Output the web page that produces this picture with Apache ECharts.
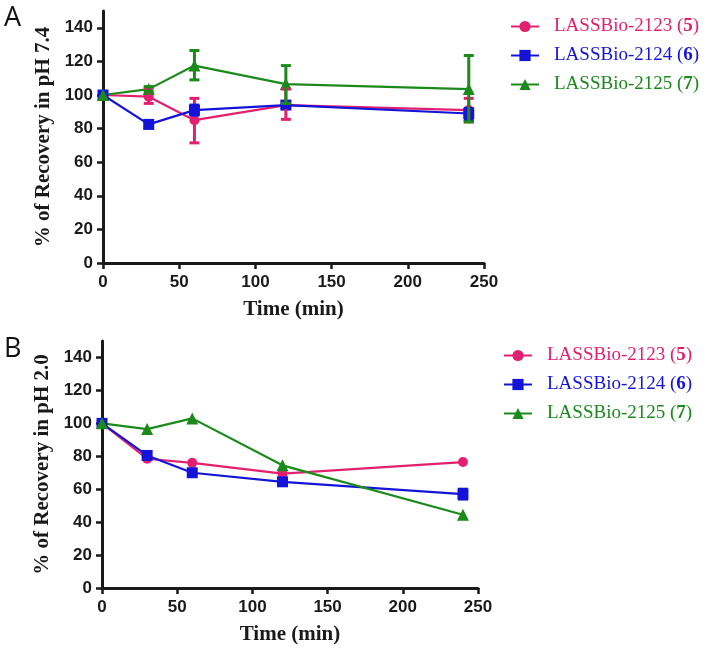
<!DOCTYPE html>
<html><head><meta charset="utf-8">
<script src="https://cdn.jsdelivr.net/npm/echarts@6/dist/echarts.min.js"></script>
<style>html,body{margin:0;padding:0;background:#fff}#c{width:708px;height:649px}</style>
</head><body><div id="c"></div>
<script>
const times = [0, 30, 60, 120, 240];
const seriesNames = ['LASSBio-2123', 'LASSBio-2124', 'LASSBio-2125'];
const compoundNumbers = ['5', '6', '7'];
const yTicks = [0, 20, 40, 60, 80, 100, 120, 140];
const xTicks = [0, 50, 100, 150, 200, 250];

// Panel A: pH 7.4 (mean, low, high)
const a2123Mean = [100, 99, 85, 94, 91];
const a2123Low  = [100, 95, 71.5, 85.5, 84];
const a2123High = [100, 104, 98, 103.5, 98];
const a2124Mean = [100, 82.5, 91, 94, 89];
const a2124Low  = [100, 80.5, 88, 92.5, 85];
const a2124High = [100, 84.5, 94, 95.5, 92];
const a2125Mean = [100, 103.5, 117.5, 106.5, 103.5];
const a2125Low  = [100, 102, 109, 95, 84];
const a2125High = [100, 105, 126.5, 117.5, 123.5];

// Panel B: pH 2.0
const b2123Mean = [100, 78.5, 76, 69.5, 76.5];
const b2124Mean = [100, 80.5, 70, 64.5, 57];
const b2124Low  = [100, 80.5, 70, 64.5, 54];
const b2124High = [100, 80.5, 70, 64.5, 60];
const b2125Mean = [100, 96.5, 103, 74.5, 44.5];

const colors = ['#E3206F', '#1414D8', '#1B8A1B'];
const symbols = ['circle', 'rect', 'triangle'];
const symbolSizes = [10, 11, 12];

const pair = (m) => times.map((t, i) => [t, m[i]]);
const errData = (lo, hi) => times.map((t, i) => [t, lo[i], hi[i]]);

function renderErr(params, api) {
  const x = api.value(0), lo = api.value(1), hi = api.value(2);
  if (lo === hi) return null;
  const pl = api.coord([x, lo]), ph = api.coord([x, hi]);
  const w = 5;
  const st = { stroke: api.visual('color'), lineWidth: 3 };
  return { type: 'group', children: [
    { type: 'line', shape: { x1: pl[0], y1: pl[1], x2: ph[0], y2: ph[1] }, style: st },
    { type: 'line', shape: { x1: pl[0] - w, y1: pl[1], x2: pl[0] + w, y2: pl[1] }, style: st },
    { type: 'line', shape: { x1: ph[0] - w, y1: ph[1], x2: ph[0] + w, y2: ph[1] }, style: st }
  ]};
}

const tickFont = { fontFamily: 'Liberation Sans, Arial', fontWeight: 'bold', fontSize: 17, color: '#1a1a1a' };
const titleFont = { fontFamily: 'Liberation Serif, Times New Roman', fontWeight: 'bold', fontSize: 21, color: '#1a1a1a' };

function xAxis(gi) {
  return { type: 'value', gridIndex: gi, min: 0, max: 250, interval: 50,
    name: 'Time (min)', nameLocation: 'middle', nameGap: 36, nameTextStyle: titleFont,
    axisLine: { lineStyle: { color: '#1a1a1a', width: 3 } },
    axisTick: { length: 6, lineStyle: { width: 2.5, color: '#1a1a1a' } },
    axisLabel: Object.assign({ margin: 11 }, tickFont), splitLine: { show: false } };
}
function yAxis(gi, title) {
  return { type: 'value', gridIndex: gi, min: 0, max: 150,
    name: title, nameLocation: 'middle', nameGap: 48, nameTextStyle: titleFont,
    axisLine: { show: true, lineStyle: { color: '#1a1a1a', width: 3 } },
    axisTick: { show: true, length: 6, customValues: yTicks, lineStyle: { width: 2.5, color: '#1a1a1a' } },
    axisLabel: Object.assign({ margin: 10, customValues: yTicks }, tickFont), splitLine: { show: false } };
}

function lineSeries(k, gi, mean) {
  return { type: 'line', name: seriesNames[k], xAxisIndex: gi, yAxisIndex: gi,
    data: pair(mean), symbol: symbols[k], symbolSize: symbolSizes[k],
    color: colors[k], lineStyle: { width: 2.2 }, itemStyle: { color: colors[k] }, z: 3, animation: false };
}
function errSeries(k, gi, lo, hi) {
  return { type: 'custom', name: seriesNames[k] + ' err' + gi, xAxisIndex: gi, yAxisIndex: gi,
    data: errData(lo, hi), encode: { x: 0, y: [1, 2] }, renderItem: renderErr,
    itemStyle: { color: colors[k] }, z: 4, animation: false };
}

function legend(left, top) {
  return { orient: 'vertical', left: left, top: top, itemGap: 10, itemWidth: 28, itemHeight: 14, padding: 0,
    data: seriesNames.map((n, k) => ({ name: n, textStyle: { color: colors[k] } })),
    formatter: (n) => { const k = seriesNames.indexOf(n); return '{s|}{t|' + n + ' (}{b|' + compoundNumbers[k] + '}{t|)}'; },
    textStyle: { fontFamily: 'Liberation Serif, Times New Roman', fontSize: 19,
      rich: { s: { width: 10 }, t: { fontFamily: 'Liberation Serif', fontSize: 19, lineHeight: 20 }, b: { fontFamily: 'Liberation Serif', fontSize: 19, lineHeight: 20, fontWeight: 'bold' } } },
    selectedMode: false };
}

const chart = echarts.init(document.getElementById('c'), null, { renderer: 'canvas' });
chart.setOption({
  animation: false,
  grid: [
    { left: 103, top: 11, width: 381, height: 252 },
    { left: 102, top: 341, width: 376, height: 247 }
  ],
  xAxis: [xAxis(0), xAxis(1)],
  yAxis: [yAxis(0, '% of Recovery in pH 7.4'), yAxis(1, '% of Recovery in pH 2.0')],
  legend: [legend(510, 17), legend(503, 346)],
  graphic: [
    { type: 'text', left: 4, top: 5, style: { text: 'A', fontFamily: 'Open Sans', fontSize: 27, fill: '#111' } },
    { type: 'text', left: 4, top: 336, style: { text: 'B', fontFamily: 'Open Sans', fontSize: 27, fill: '#111' } }
  ],
  series: [
    lineSeries(0, 0, a2123Mean), lineSeries(1, 0, a2124Mean), lineSeries(2, 0, a2125Mean),
    errSeries(0, 0, a2123Low, a2123High), errSeries(1, 0, a2124Low, a2124High), errSeries(2, 0, a2125Low, a2125High),
    lineSeries(0, 1, b2123Mean), lineSeries(1, 1, b2124Mean), lineSeries(2, 1, b2125Mean),
    errSeries(1, 1, b2124Low, b2124High)
  ]
});
</script></body></html>
